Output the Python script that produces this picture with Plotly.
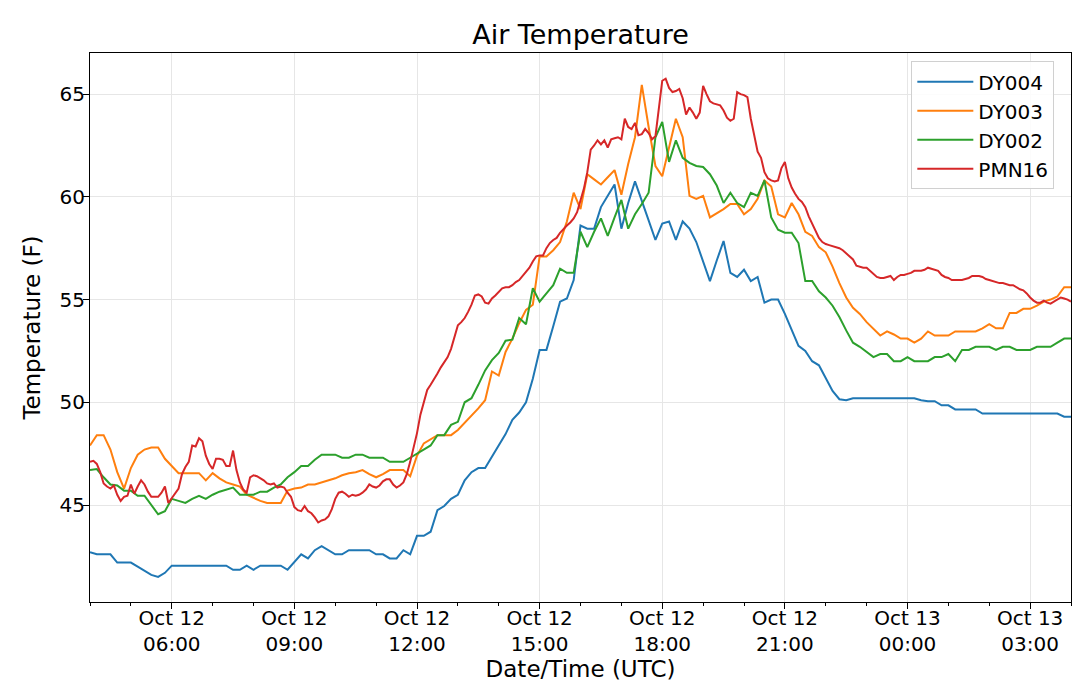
import pandas as pd
import plotly.graph_objects as go

# DY stations report every 10 min, PMN16 every 5 min (Oct 12 04:00 -> Oct 13 04:00 UTC)
dy_times = pd.date_range("2018-10-12 04:00", periods=145, freq="10min")
pmn_times = pd.date_range("2018-10-12 04:00", periods=289, freq="5min")

dy004 = [
    42.7, 42.6, 42.6, 42.6, 42.2, 42.2, 42.2, 42.0, 41.8, 41.6,
    41.5, 41.7, 42.05, 42.05, 42.05, 42.05, 42.05, 42.05, 42.05, 42.05,
    42.05, 41.85, 41.85, 42.05, 41.85, 42.05, 42.05, 42.05, 42.05, 41.85,
    42.2, 42.6, 42.4, 42.8, 43.0, 42.8, 42.6, 42.6, 42.8, 42.8,
    42.8, 42.8, 42.6, 42.6, 42.4, 42.4, 42.8, 42.6, 43.5, 43.5,
    43.7, 44.75, 44.95, 45.3, 45.5, 46.2, 46.6, 46.8, 46.8, 47.35,
    47.9, 48.45, 49.15, 49.5, 50.0, 51.15, 52.55, 52.55, 53.7, 54.9,
    55.05, 55.95, 58.6, 58.45, 58.45, 59.5, 60.05, 60.6, 58.45, 59.7,
    60.75, 59.75, 58.85, 57.9, 58.7, 58.8, 57.9, 58.8, 58.45, 57.8,
    56.8, 55.9, 56.9, 57.85, 56.3, 56.1, 56.45, 55.9, 56.1, 54.85,
    55.0, 55.0, 54.3, 53.5, 52.75, 52.5, 52.0, 51.8, 51.15, 50.55,
    50.15, 50.1, 50.2, 50.2, 50.2, 50.2, 50.2, 50.2, 50.2, 50.2,
    50.2, 50.2, 50.1, 50.05, 50.05, 49.85, 49.85, 49.65, 49.65, 49.65,
    49.65, 49.45, 49.45, 49.45, 49.45, 49.45, 49.45, 49.45, 49.45, 49.45,
    49.45, 49.45, 49.45, 49.3, 49.3,
]

dy003 = [
    47.9, 48.4, 48.4, 47.7, 46.6, 45.8, 46.8, 47.45, 47.7, 47.8,
    47.8, 47.25, 46.9, 46.55, 46.55, 46.55, 46.55, 46.2, 46.55, 46.3,
    46.1, 46.0, 45.9, 45.5, 45.35, 45.2, 45.1, 45.1, 45.1, 45.7,
    45.8, 45.85, 46.0, 46.0, 46.1, 46.2, 46.3, 46.45, 46.55, 46.6,
    46.7, 46.5, 46.35, 46.5, 46.7, 46.7, 46.7, 46.4, 47.4, 48.0,
    48.2, 48.4, 48.4, 48.4, 48.65, 49.0, 49.3, 49.7, 50.1, 51.5,
    51.3, 52.45, 53.1, 53.85, 54.5, 54.75, 57.1, 57.1, 57.4, 57.8,
    58.8, 60.2, 59.4, 61.1, 60.85, 60.6, 60.95, 61.3, 60.1, 61.6,
    62.9, 65.45, 63.4, 61.5, 61.0, 62.4, 63.8, 62.9, 60.05, 59.9,
    60.05, 59.0, 59.2, 59.4, 59.65, 59.65, 59.15, 59.4, 59.9, 60.8,
    60.5, 59.15, 59.0, 59.7, 59.15, 58.3, 58.1, 57.55, 57.3, 56.6,
    55.8, 55.1, 54.6, 54.3, 53.9, 53.55, 53.25, 53.45, 53.3, 53.1,
    53.1, 52.9, 53.1, 53.45, 53.25, 53.25, 53.25, 53.45, 53.45, 53.45,
    53.45, 53.6, 53.8, 53.6, 53.6, 54.35, 54.35, 54.55, 54.55, 54.7,
    54.9, 55.0, 55.15, 55.6, 55.6,
]

dy002 = [
    46.7, 46.75, 46.35, 46.0, 45.95, 45.7, 45.7, 45.45, 45.45, 45.0,
    44.55, 44.7, 45.3, 45.2, 45.1, 45.3, 45.45, 45.3, 45.5, 45.65,
    45.75, 45.85, 45.5, 45.5, 45.5, 45.65, 45.65, 45.85, 46.0, 46.35,
    46.6, 46.9, 46.9, 47.2, 47.45, 47.45, 47.45, 47.3, 47.3, 47.45,
    47.45, 47.3, 47.3, 47.3, 47.1, 47.1, 47.1, 47.3, 47.5, 47.7,
    47.9, 48.4, 48.4, 48.9, 49.05, 50.0, 50.2, 50.85, 51.55, 52.05,
    52.4, 53.0, 53.05, 54.1, 53.8, 55.55, 54.9, 55.3, 55.7, 56.5,
    56.3, 56.3, 58.3, 57.55, 58.3, 58.95, 58.1, 59.0, 59.85, 58.45,
    59.15, 59.65, 60.2, 62.9, 63.65, 61.7, 62.75, 61.9, 61.65, 61.5,
    61.45, 61.1, 60.55, 59.7, 60.2, 59.7, 59.5, 60.2, 60.05, 60.8,
    59.0, 58.4, 58.25, 58.25, 57.75, 55.9, 55.9, 55.4, 55.1, 54.7,
    54.15, 53.5, 52.9, 52.7, 52.45, 52.2, 52.35, 52.35, 52.0, 52.0,
    52.2, 52.0, 52.0, 52.0, 52.2, 52.2, 52.35, 52.0, 52.55, 52.55,
    52.7, 52.7, 52.7, 52.55, 52.7, 52.7, 52.55, 52.55, 52.55, 52.7,
    52.7, 52.7, 52.9, 53.1, 53.1,
]

pmn16 = [
    47.1, 47.15, 47.0, 46.6, 46.05, 45.9, 45.8, 45.95, 45.5, 45.2,
    45.4, 45.45, 46.0, 45.55, 45.9, 46.2, 46.0, 45.65, 45.4, 45.4,
    45.4, 45.6, 45.9, 45.1, 45.35, 45.6, 45.8, 46.5, 46.85, 47.1,
    47.9, 47.85, 48.25, 48.1, 47.4, 47.0, 46.75, 47.25, 47.25, 47.2,
    46.9, 46.9, 47.65, 46.7, 46.1, 45.75, 45.6, 46.35, 46.45, 46.4,
    46.3, 46.2, 46.05, 46.0, 46.05, 45.85, 45.9, 45.85, 45.6, 45.4,
    44.9, 44.75, 44.7, 44.95, 44.7, 44.6, 44.4, 44.15, 44.25, 44.3,
    44.45, 44.8, 45.3, 45.6, 45.65, 45.55, 45.4, 45.5, 45.45, 45.5,
    45.6, 45.75, 46.0, 45.9, 45.85, 45.95, 46.15, 46.25, 46.25, 46.0,
    45.85, 45.95, 46.1, 46.5, 47.1, 47.8, 48.5, 49.4, 50.05, 50.6,
    50.85, 51.1, 51.4, 51.7, 51.95, 52.2, 52.6, 53.2, 53.75, 53.9,
    54.1, 54.4, 54.75, 55.2, 55.25, 55.15, 54.85, 54.8, 55.05, 55.2,
    55.4, 55.55, 55.6, 55.6, 55.7, 55.85, 55.95, 56.15, 56.35, 56.55,
    56.85, 57.1, 57.15, 57.15, 57.5, 57.75, 57.9, 58.0, 58.25, 58.45,
    58.6, 58.75, 58.95, 59.25, 59.85, 60.4, 61.2, 62.3, 62.5, 62.75,
    62.55, 62.75, 62.4, 62.8, 62.85, 62.9, 62.8, 63.8, 63.4, 63.3,
    63.6, 63.0, 63.05, 63.3, 63.1, 62.8, 62.95, 64.2, 65.65, 65.75,
    65.3, 65.1, 65.15, 65.25, 64.8, 64.0, 64.35, 64.1, 63.8, 64.1,
    65.4, 65.0, 64.65, 64.55, 64.5, 64.45, 64.2, 63.85, 63.7, 63.8,
    65.1, 65.0, 64.95, 64.85, 63.8, 63.0, 62.2, 61.9, 61.2, 60.9,
    60.8, 60.75, 60.8, 61.4, 61.7, 60.9, 60.45, 60.15, 59.9, 59.75,
    59.5, 59.05, 58.7, 58.3, 58.0, 57.8, 57.7, 57.65, 57.6, 57.55,
    57.5, 57.4, 57.25, 57.1, 56.95, 56.65, 56.6, 56.55, 56.55, 56.4,
    56.25, 56.1, 56.05, 56.05, 56.1, 56.15, 55.95, 56.1, 56.2, 56.2,
    56.25, 56.3, 56.4, 56.4, 56.4, 56.45, 56.55, 56.5, 56.45, 56.4,
    56.2, 56.1, 56.05, 55.95, 55.95, 55.95, 55.95, 56.0, 56.05, 56.15,
    56.15, 56.15, 56.1, 56.0, 55.95, 55.9, 55.85, 55.8, 55.8, 55.75,
    55.7, 55.7, 55.6, 55.5, 55.45, 55.3, 55.1, 54.95, 54.85, 54.85,
    54.95, 54.85, 54.8, 54.9, 55.0, 55.1, 55.05, 55.0, 54.9,
]

tick_times = pd.date_range("2018-10-12 06:00", periods=8, freq="3h")
tick_text = ["Oct 12<br>06:00", "Oct 12<br>09:00", "Oct 12<br>12:00", "Oct 12<br>15:00",
             "Oct 12<br>18:00", "Oct 12<br>21:00", "Oct 13<br>00:00", "Oct 13<br>03:00"]
hour_ticks = pd.date_range("2018-10-12 04:00", periods=25, freq="1h")
y_ticks = [45, 50, 55, 60, 65]

series = [
    ("DY004", dy_times, dy004, "#1f77b4"),
    ("DY003", dy_times, dy003, "#ff7f0e"),
    ("DY002", dy_times, dy002, "#2ca02c"),
    ("PMN16", pmn_times, pmn16, "#d62728"),
]

fig = go.Figure()
for name, t, vals, color in series:
    fig.add_trace(go.Scatter(x=t, y=vals, name=name, mode="lines",
                             line=dict(color=color, width=2)))

# the page body adds an 8px offset, so the figure is 8px smaller than the window
font = "DejaVu Sans"
fig.update_layout(
    width=1072, height=681,
    margin=dict(l=82, r=9, t=45, b=87),
    paper_bgcolor="white", plot_bgcolor="white",
    font=dict(family=font, size=20, color="black"),
    title=dict(text="Air Temperature", xref="paper", x=0.5, xanchor="center",
               yref="container", y=0.9604, yanchor="middle", font=dict(size=27)),
    legend=dict(x=0.983, xanchor="right", y=0.985, yanchor="top",
                bgcolor="rgba(255,255,255,0.85)", bordercolor="#d0d0d0", borderwidth=1,
                itemwidth=56, entrywidth=90, font=dict(size=20)),
    showlegend=True,
)
fig.update_xaxes(
    range=[dy_times[0], dy_times[-1]],
    automargin=False,
    tickmode="array", tickvals=tick_times, ticktext=tick_text,
    ticks="outside", ticklen=6, tickcolor="black",
    ticklabelstandoff=-8,
    minor=dict(tickmode="array", tickvals=hour_ticks, ticks="outside", ticklen=3,
               tickcolor="black", showgrid=False),
    showgrid=True, gridcolor="#e6e6e6", gridwidth=1,
    showline=True, linecolor="black", linewidth=1, mirror=True,
    zeroline=False,
    title=dict(text="Date/Time (UTC)", font=dict(size=23), standoff=0),
)
fig.update_yaxes(
    range=[40.28, 67.0],
    automargin=False,
    tickmode="array", tickvals=y_ticks,
    ticks="outside", ticklen=6, tickcolor="black",
    ticklabelstandoff=-6,
    showgrid=True, gridcolor="#e6e6e6", gridwidth=1,
    showline=True, linecolor="black", linewidth=1, mirror=True,
    zeroline=False,
    title=dict(text="Temperature (F)", font=dict(size=23), standoff=12),
)

fig.write_html("out.html")
